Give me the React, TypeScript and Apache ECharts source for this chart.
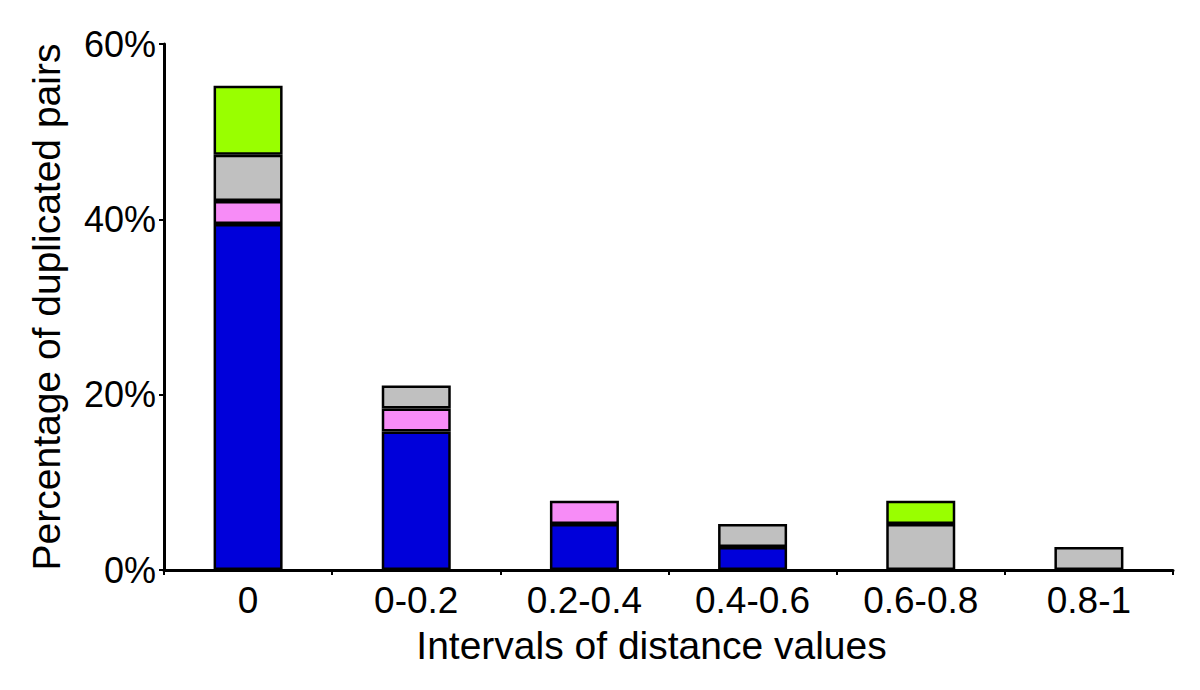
import React, { useEffect, useRef } from "react";
import * as echarts from "echarts";

const categories = ["0", "0-0.2", "0.2-0.4", "0.4-0.6", "0.6-0.8", "0.8-1"];
const blueValues = [39.47, 15.79, 5.26, 2.63, null, null];
const pinkValues = [2.63, 2.63, 2.63, null, null, null];
const grayValues = [5.26, 2.63, null, 2.63, 5.26, 2.63];
const greenValues = [7.89, null, null, null, 2.63, null];
const yTicks = { min: 0, max: 60, interval: 20 };

const FONT = "'Liberation Sans', Arial, Helvetica, sans-serif";

export default function App() {
  const ref = useRef<HTMLDivElement>(null);
  useEffect(() => {
    if (!ref.current) return;
    const chart = echarts.init(ref.current, undefined, { renderer: "svg" });
    const mk = (name: string, data: (number | null)[], color: string) => ({
      name,
      type: "bar",
      stack: "total",
      barWidth: 69,
      data: data.map((v) => (v === null ? "-" : v)),
      itemStyle: { color, borderColor: "#000", borderWidth: 2.5 },
    });
    chart.setOption({
      animation: false,
      backgroundColor: "#fff",
      textStyle: { fontFamily: FONT },
      grid: { left: 164, right: 27, top: 44, bottom: 120 },
      xAxis: {
        type: "category",
        data: categories,
        boundaryGap: true,
        name: "Intervals of distance values",
        nameLocation: "middle",
        nameGap: 56,
        nameTextStyle: { fontSize: 39, color: "#000", fontFamily: FONT, padding: [0, 34, 0, 0] },
        axisLine: { lineStyle: { color: "#000", width: 3 } },
        axisTick: { show: true, alignWithLabel: false, length: 5, lineStyle: { color: "#000", width: 2 } },
        axisLabel: { fontSize: 37, color: "#000", margin: 12, fontFamily: FONT },
      },
      yAxis: {
        type: "value",
        min: yTicks.min,
        max: yTicks.max,
        interval: yTicks.interval,
        name: "Percentage of duplicated pairs",
        nameLocation: "middle",
        nameGap: 98,
        nameTextStyle: { fontSize: 39, color: "#000", fontFamily: FONT },
        axisLine: { show: true, lineStyle: { color: "#000", width: 3 } },
        axisTick: { show: true, length: 5, lineStyle: { color: "#000", width: 2 } },
        axisLabel: { fontSize: 36, color: "#000", margin: 8, formatter: "{value}%", fontFamily: FONT },
        splitLine: { show: false },
      },
      series: [
        mk("blue", blueValues, "#0000DA"),
        mk("pink", pinkValues, "#F78CF7"),
        mk("gray", grayValues, "#C0C0C0"),
        mk("green", greenValues, "#99FF00"),
      ],
    });
    return () => chart.dispose();
  }, []);
  return (
    <div
      ref={ref}
      style={{ position: "fixed", left: 0, top: 0, width: 1200, height: 690, background: "#fff" }}
    />
  );
}
